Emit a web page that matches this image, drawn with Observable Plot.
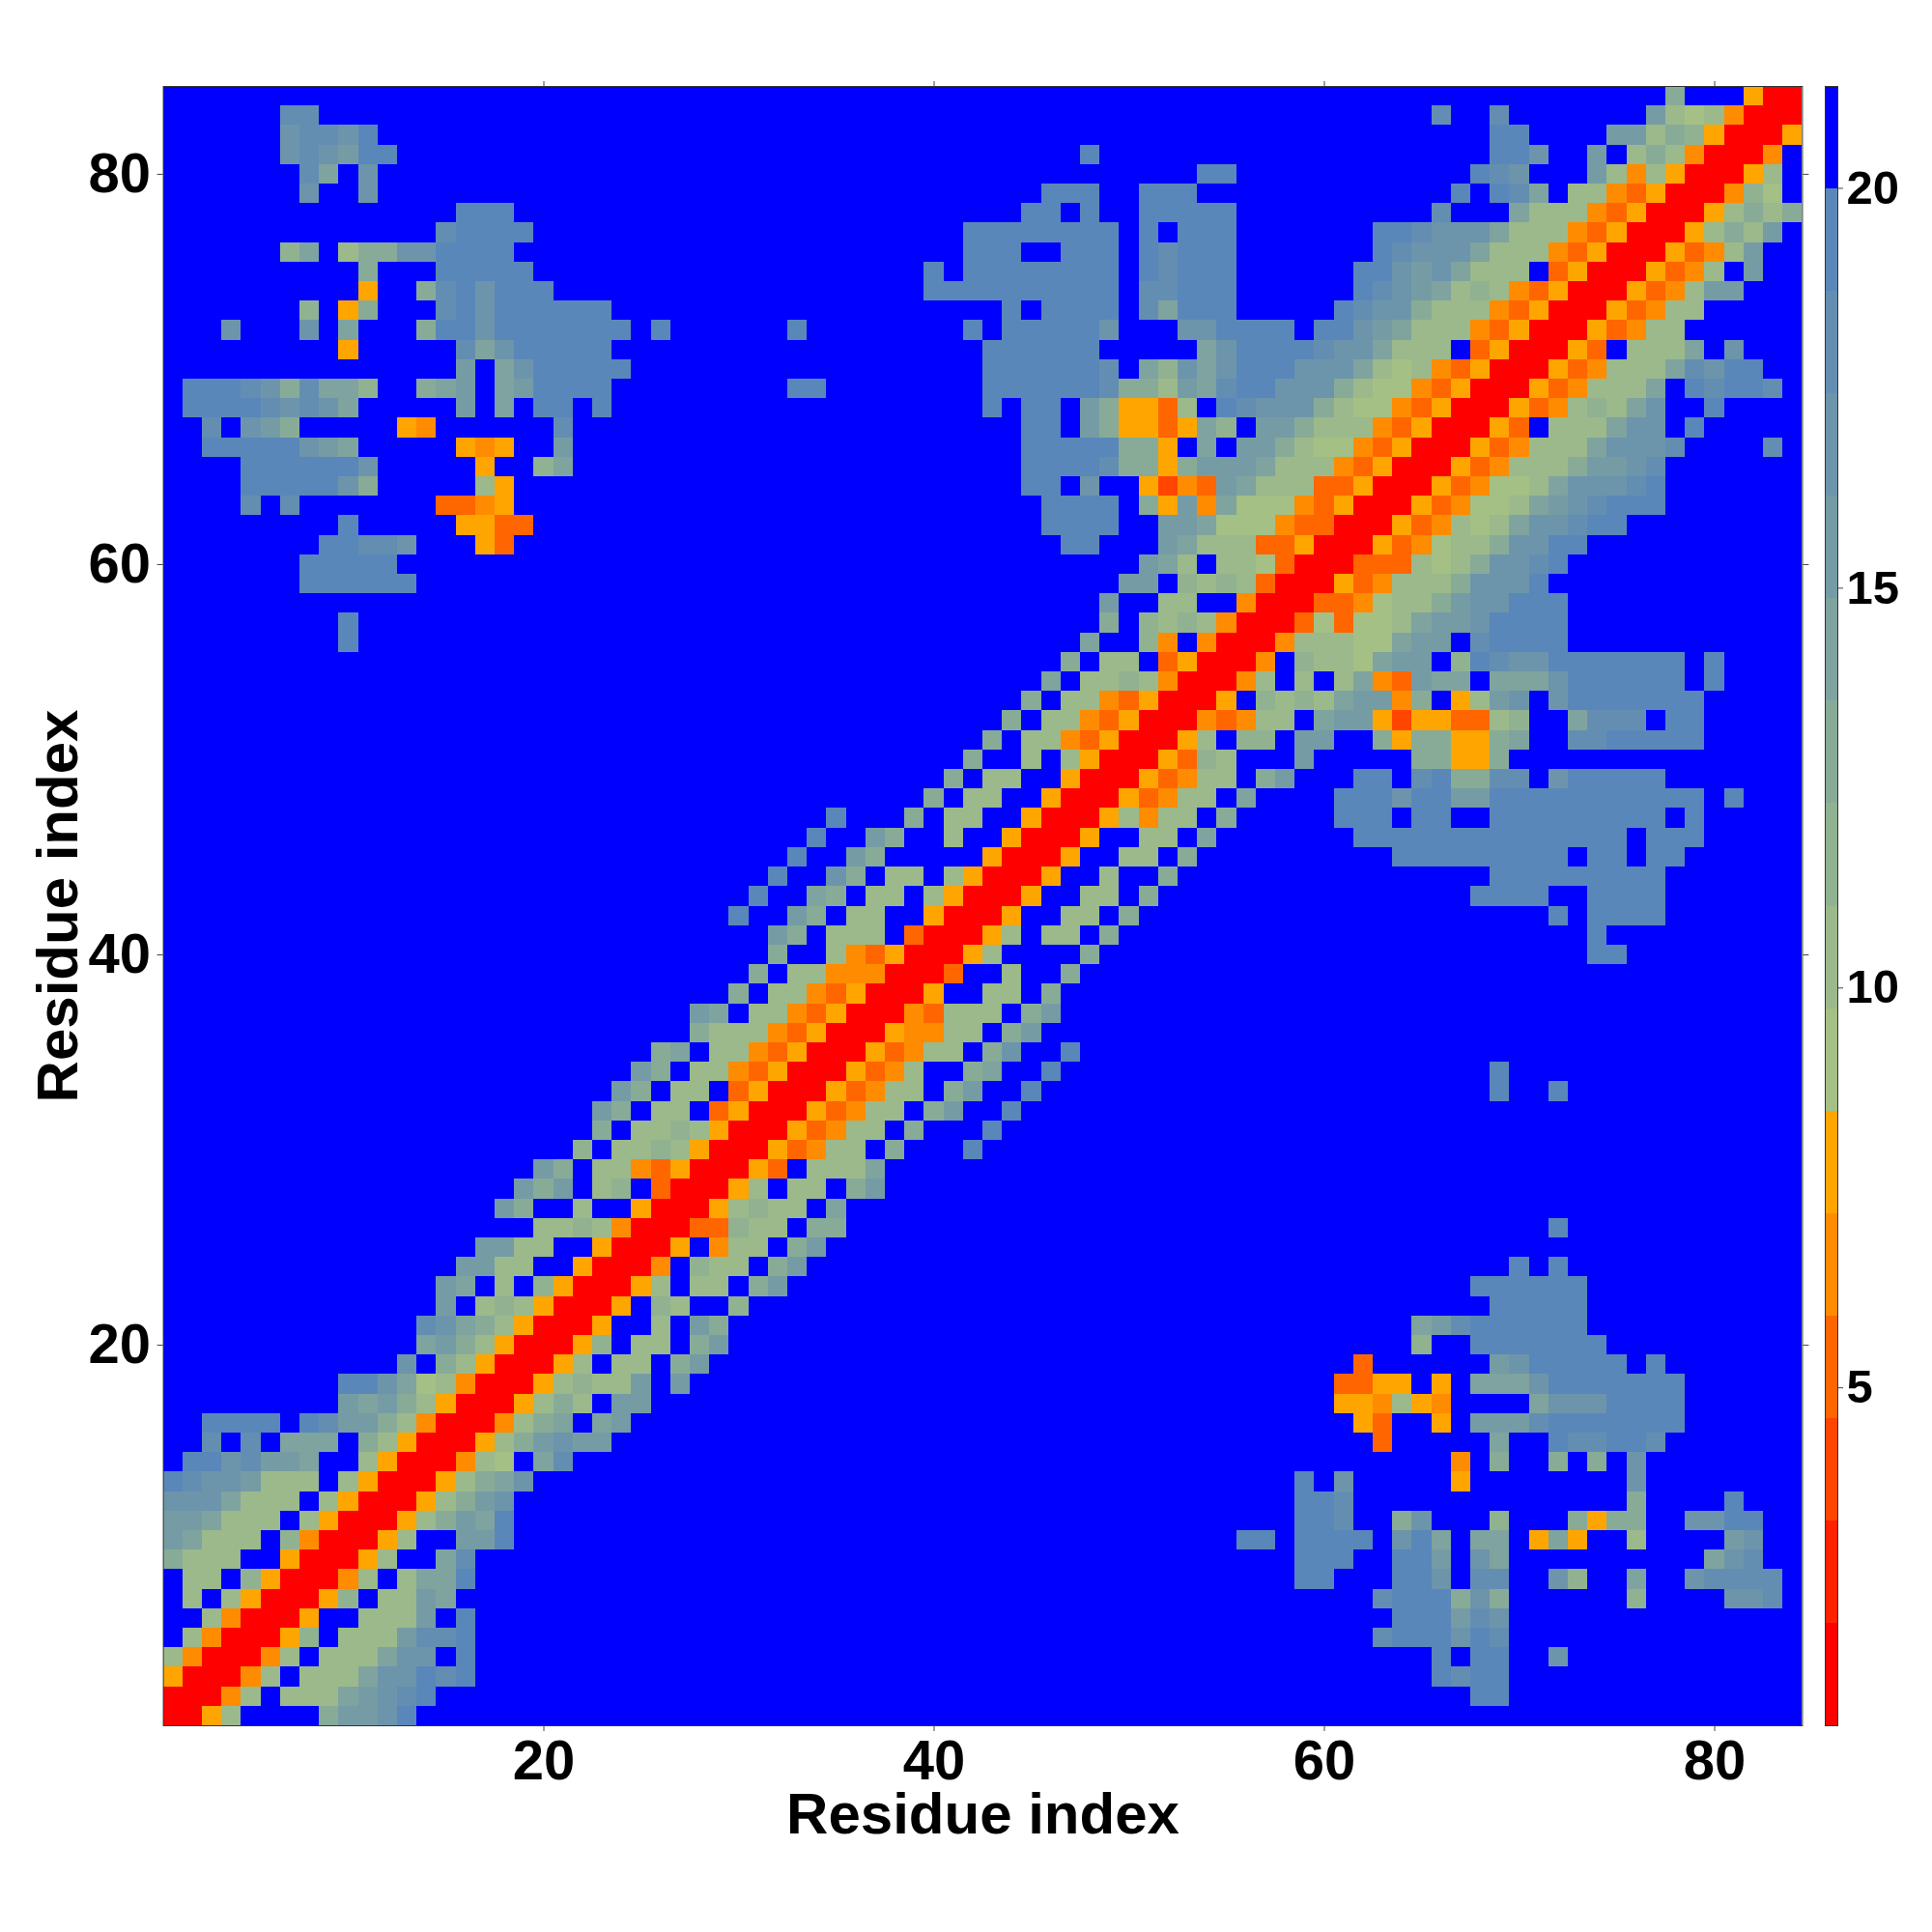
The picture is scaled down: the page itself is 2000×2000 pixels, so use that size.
<!DOCTYPE html>
<html>
<head>
<meta charset="utf-8">
<script src="https://cdn.jsdelivr.net/npm/d3@7"></script>
<script src="https://cdn.jsdelivr.net/npm/@observablehq/plot@0.6"></script>
<style>
html,body{margin:0;padding:0;background:#fff}
#wrap{position:relative;width:2000px;height:2000px;overflow:hidden}
#wrap svg{position:absolute;top:0;background:transparent;font-family:"Liberation Sans",Arial,sans-serif}
</style>
</head>
<body>
<div id="wrap"></div>
<script>
// Colour bins of the distance scale (first edge, bin width, colours from near to far).
const binStart = 0.75;
const binWidth = 1.28125;
const binColors = ["#ff0000","#ff2200","#ff4500","#ff6600","#ff8c00","#ffa500",
  "#a4c084","#9bb98b","#91b291","#88ab98","#7fa39e","#759ca5","#6c95ab","#638eb2","#5a87b9","#0000ff"];
const residueTicks = [20,40,60,80];
const colorbarTicks = [5,10,15,20];
const residueCount = 84;

// Symmetric matrix, lower half only. Each line is one residue j (1..84);
// "start:codes" gives the bin (hex digit) of residues start, start+1, ...; "." and anything unlisted is the last bin.
const rows = [
"1:0","1:00","1:500","1:7400","2:7400","3:7400","2:7.7500","2:77.8500","1:9777..500","1:ba777.8400",
"1:bba777.7500","1:ccca777.7500","1:edccb777.7500","2:eecdbba..7500","3:d.d.aaa.97500",
"3:eeee.edbb97400","10:bab97500","10:eeca67400","13:c.97500","14:ab97500",
"14:dca97500","15:b.787500","15:ba.7.8500","16:bb77..500","17:bb77..500",
"20:7787400","18:b9..7..500","19:b9b.78.300","20:b9.7743500","22:8.7787500",
"23:9.7787500","23:b9.77.3500","24:b9.77.3500","25:b9.7743500","26:9a.7743500",
"28:977743500","28:ba.7743500","30:9.7743500","31:9.7744400","32:9..743500",
"32:b9.777.300","30:e 33:b9.77..500","31:e 34:a9.77.7500","32:e 35:c9.77.7500","33:e 36:b9 43:500",
"34:e 37:b9 41:7 44:500","35:e 39:9.77..500","40:9.77..500","41:9.77..500","42:9..7.7500",
"43:9.7743500","44:9.7743500","45:9.7743500","46:a.7787400","47:9.77.3500",
"10:e 48:a..84.400","10:e 49:9.8787400","49:b..77..400","8:eeeeee 50:bb.8787300","8:eeeee 51:ba7.776300",
"9:eeddc 17:53 47:ee 52:ba77733500","10:e 16:5533 46:eeee 52:bba66643300",
"5:d.d 15:3345 46:eeee 51:95b4a66643500","5:eeeeec9 17:75 45:ee 48:c 51:5243ba77733500",
"5:eeeeeec 17:5 20:8a 45:eeeed9959bbba77743500",
"3:eeeeecba 16:545 21:b 45:eeeee995.a.bb976643500",
"3:d 5:cb9 13:54 21:d 45:ee.b95535a8.bb977743500",
"2:eeeedcdca 16:b 18:a 20:ee 23:e 43:e.ee.b95537.edccc976643500",
"2:eeedc9daa8 14:9ab 18:abeeee 33:ee 43:eeeeeed997badeeccc976643500",
"16:b 18:aceeeee 43:eeeeeed.a8caceeeccca76743500",
"10:5 16:daceeeee 43:eeeeee 54:aceeeedcca777.3500",
"4:c 8:c 10:a 14:9eeceeeeeee 26:e 33:e 42:e 44:eeeeec 53:cceeee.eecba77743500",
"8:8 10:59 15:deceeeeee 44:e 46:eeee 51:daeee 61:edcc977743500",
"11:5 14:9deceee 40:eeeeeeeeee 51:ddeee 62:edcba78743500",
"11:9 15:eeeee 40:e 42:eeeeeeee 51:edeee 62:eecbca777.3500",
"7:8a 10:799cceeee 42:eee 47:eee 51:edeee 63:edccca77743500",
"15:deeee 42:eeeeeeee 51:e 53:eee 63:eedccca77743500",
"16:eee 45:ee 48:e 51:eeeee 66:d 70:a77743500",
"8:c 11:c 46:eee 51:eee 67:e 69:eda 73:7743500",
"8:da 11:c 54:ee 68:edc 74:b747500",
"7:cdcbee 48:e 69:eec 74:b.797400",
"7:cddce 69:ee 75:bb798500",
"7:dd 66:d 69:d 77:b767400",
"78:9 82:500"
];

// Build the table from the rows above.
const binMid = k => binStart + (k + 0.5) * binWidth;
const cellsMap = new Map();
rows.forEach((line, idx) => {
  const j = idx + 1;
  line.split(" ").forEach(seg => {
    const [s, codes] = seg.split(":");
    [...codes].forEach((ch, k) => {
      if (ch === ".") return;
      const i = +s + k;
      const v = binMid(parseInt(ch, 16));
      cellsMap.set(i + "," + j, v);
      cellsMap.set(j + "," + i, v);
    });
  });
});
const cells = [];
d3.range(1, residueCount + 1).forEach(y => d3.range(1, residueCount + 1).forEach(x => {
  cells.push({x, y, d: cellsMap.has(x + "," + y) ? cellsMap.get(x + "," + y) : binMid(15)});
}));
const bins = binColors.map((c, k) => ({lo: binStart + k * binWidth, hi: binStart + (k + 1) * binWidth, d: binMid(k)}));
const colorScale = {type: "threshold", domain: d3.range(1, 16).map(k => binStart + k * binWidth), range: binColors};

const tickFont = {fontSize: 58, fontWeight: "bold"};
const labelFont = {fontSize: 60, fontWeight: "bold", labelAnchor: "center", labelArrow: "none", tickSize: 0, tickFormat: () => ""};
const noText = () => "";
const main = Plot.plot({
  width: 2000, height: 2000,
  marginLeft: 168.6, marginRight: 134.6, marginTop: 89, marginBottom: 214,
  x: {domain: [0.5, 84.5]},
  y: {domain: [0.5, 84.5]},
  color: colorScale,
  style: {background: "transparent", fontFamily: "'Liberation Sans'"},
  marks: [
    Plot.rect(cells, {x1: d => d.x - 0.5, x2: d => d.x + 0.5, y1: d => d.y - 0.5, y2: d => d.y + 0.5, fill: "d", shapeRendering: "crispEdges"}),
    Plot.frame({stroke: "#333", strokeWidth: 1}),
    Plot.axisX({ticks: residueTicks, anchor: "bottom", tickSize: 6, tickPadding: 8, ...tickFont, label: null, stroke: "#444"}),
    Plot.axisY({ticks: residueTicks, anchor: "left", tickSize: 6, tickPadding: 7, ...tickFont, label: null, stroke: "#444"}),
    Plot.axisX({ticks: residueTicks, anchor: "bottom", ...labelFont, label: "Residue index", labelOffset: 111}),
    Plot.axisY({ticks: residueTicks, anchor: "left", ...labelFont, label: "Residue index", labelOffset: 132}),
    Plot.axisX({ticks: residueTicks, anchor: "top", tickSize: 6, tickFormat: noText, label: null, stroke: "#444"}),
    Plot.axisY({ticks: residueTicks, anchor: "right", tickSize: 6, tickFormat: noText, label: null, stroke: "#444"})
  ]
});
main.style.left = "0px";
document.getElementById("wrap").appendChild(main);

const bar = Plot.plot({
  width: 140, height: 2000,
  marginLeft: 29, marginRight: 98, marginTop: 89, marginBottom: 214,
  x: {domain: [0, 1], axis: null},
  y: {domain: [binStart, binStart + 16 * binWidth]},
  color: colorScale,
  style: {background: "transparent", fontFamily: "'Liberation Sans'"},
  marks: [
    Plot.rect(bins, {x1: 0, x2: 1, y1: "lo", y2: "hi", fill: "d", shapeRendering: "crispEdges"}),
    Plot.frame({stroke: "#333", strokeWidth: 1}),
    Plot.axisY({ticks: colorbarTicks, anchor: "right", tickSize: 5, tickPadding: 4, fontSize: 49, fontWeight: "bold", label: null, stroke: "#444", dy: 2})
  ]
});
bar.style.left = "1860px";
document.getElementById("wrap").appendChild(bar);
</script>
</body>
</html>
